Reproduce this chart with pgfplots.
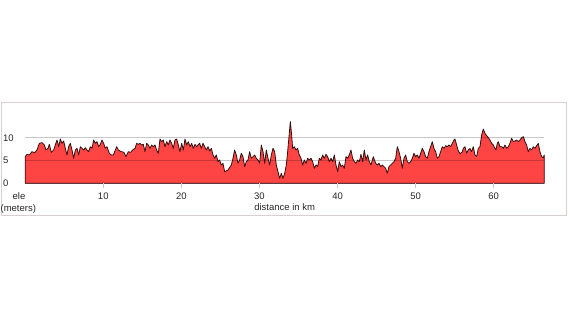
\documentclass[border=0pt]{standalone}
\usepackage{pgfplots}
\pgfplotsset{compat=1.18}
\usepackage{fontspec}
\setmainfont{Liberation Sans}
\definecolor{elefill}{RGB}{255,68,68}
\definecolor{eleline}{RGB}{50,14,14}
\definecolor{frame}{RGB}{218,206,206}
\definecolor{tickc}{RGB}{200,200,200}
\begin{document}
\begin{tikzpicture}
\path[use as bounding box] (0pt,0pt) rectangle (570pt,319pt);
\draw[frame, line width=0.9pt] (1.5pt,216.7pt) rectangle (566pt,103.3pt);
\begin{axis}[
  at={(25.16pt,135.7pt)}, anchor=south west,
  scale only axis, width=519.1pt, height=63.7pt,
  xmin=0, xmax=66.47, ymin=0, ymax=14,
  separate axis lines,
  axis x line*=bottom, axis y line*=left,
  axis line style={draw=none},
  xtick={10,20,30,40,50,60},
  ytick={0,5,10},
  tick align=outside,
  major tick length=5pt,
  xtick style={tickc, line width=0.8pt},
  ytick style={draw=none},
  ymajorgrids,
  grid style={black, opacity=0.22, line width=0.9pt},
  axis on top,
  /pgf/number format/assume math mode=true,
  tick label style={font=\fontsize{9.5}{11}\selectfont, text=black!85},
  xticklabel style={anchor=base, inner sep=0pt, yshift=-10.8pt},
  yticklabel style={anchor=base west, inner sep=0pt, xshift=-17.2pt, yshift=-3.4pt},
  clip=false,
]
\addplot[draw=eleline, line width=0.8pt, fill=elefill, line join=round] coordinates {
(0,5.85) (0.235,6.37) (0.534,6.22) (0.875,6.95) (1.217,6.73) (1.516,7.32) (1.814,8.78) (2.156,8.93) (2.455,8.42) (2.668,7.32) (2.924,7.68) (3.095,8.56) (3.351,6.80) (3.650,7.32) (3.863,8.42) (4.076,9.52) (4.290,8.05) (4.503,9.74) (4.717,8.78) (4.930,9.30) (5.143,7.68) (5.357,6.22) (5.570,8.05) (5.784,8.78) (5.997,7.32) (6.210,5.49) (6.424,7.32) (6.637,7.68) (6.851,6.22) (7.064,8.05) (7.277,7.68) (7.491,7.32) (7.704,7.83) (7.918,7.32) (8.131,6.95) (8.344,8.05) (8.558,7.68) (8.771,9.52) (8.985,8.78) (9.198,9.15) (9.411,8.05) (9.625,8.56) (9.838,9.52) (10.052,8.78) (10.265,7.68) (10.478,8.05) (10.777,6.59) (11.033,6.22)
(11.290,6.22) (11.717,8.05) (11.930,7.32) (12.143,7.10) (12.357,6.95) (12.655,6.80) (12.911,5.85) (13.210,6.95) (13.509,6.80) (13.765,7.32) (14.064,7.68) (14.277,8.78) (14.491,8.56) (14.704,8.78) (14.918,8.42) (15.131,8.56) (15.344,6.95) (15.558,8.78) (15.771,8.42) (15.985,7.68) (16.198,8.42) (16.411,8.05) (16.625,8.42) (16.838,7.32) (17.052,6.59) (17.265,9.74) (17.478,9.15) (17.692,9.52) (17.905,8.05) (18.119,9.15) (18.332,8.42) (18.545,9.52) (18.759,8.78) (18.972,7.68) (19.186,9.52) (19.399,9.74) (19.612,8.42) (19.826,6.95) (20.039,8.78) (20.253,7.32) (20.466,9.74) (20.679,8.42) (20.893,9.15) (21.106,8.05) (21.320,8.78) (21.533,7.68) (21.746,8.56) (21.960,8.05)
(22.131,8.42) (22.344,8.78) (22.558,7.68) (22.771,8.78) (22.985,8.05) (23.198,7.32) (23.411,8.05) (23.625,7.10) (23.838,7.68) (24.052,6.22) (24.265,5.49) (24.478,6.22) (24.692,4.75) (24.905,5.12) (25.119,4.02) (25.332,4.39) (25.545,2.56) (25.972,2.92) (26.399,4.02) (26.612,5.49) (26.826,7.32) (27.039,6.22) (27.253,4.39) (27.466,5.12) (27.679,6.59) (27.893,5.85) (28.106,3.66) (28.320,4.75) (28.533,5.12) (28.746,6.95) (28.960,5.49) (29.173,5.85) (29.387,6.22) (29.600,5.49) (29.813,5.12) (30.027,4.39) (30.240,8.42) (30.454,6.95) (30.667,4.39) (30.880,7.32) (31.094,5.49) (31.307,4.02) (31.521,6.22) (31.734,7.68) (31.947,6.95) (32.161,4.02) (32.374,2.56) (32.588,1.09) (32.801,2.19) (33.014,1.09) (33.228,2.19) (33.441,4.02)
(33.611,6.95) (33.825,10.98) (33.953,13.55) (34.124,10.61) (34.252,7.68) (34.465,8.05) (34.678,7.32) (34.892,7.68) (35.105,6.22) (35.319,5.49) (35.532,4.02) (35.745,5.12) (35.959,4.39) (36.172,5.49) (36.386,5.12) (36.599,5.49) (36.812,4.75) (37.026,3.29) (37.239,4.02) (37.453,3.66) (37.666,5.49) (37.879,5.12) (38.093,6.22) (38.306,5.49) (38.520,6.37) (38.733,5.85) (38.946,4.75) (39.160,5.49) (39.373,4.75) (39.587,6.22) (39.800,4.02) (40.013,2.56) (40.227,4.75) (40.440,3.66) (40.654,4.02) (40.867,3.29) (41.080,5.85) (41.294,5.49) (41.507,6.22) (41.721,7.32) (41.934,5.49) (42.147,4.75) (42.361,4.39) (42.574,5.12) (42.788,4.75) (43.001,6.37) (43.214,4.75) (43.428,7.32) (43.641,5.12) (43.855,6.22) (44.068,4.75) (44.281,4.02) (44.580,5.85)
(44.879,4.39) (45.093,4.02) (45.306,4.39) (45.520,3.66) (45.733,4.02) (45.946,3.66) (46.160,3.29) (46.373,2.19) (46.587,3.66) (46.800,4.02) (47.013,4.39) (47.227,4.75) (47.440,5.49) (47.654,8.05) (47.867,6.95) (48.080,5.49) (48.294,3.29) (48.507,5.49) (48.721,6.22) (48.934,4.75) (49.147,4.39) (49.361,4.75) (49.574,5.49) (49.788,6.59) (50.001,5.85) (50.214,6.22) (50.428,5.49) (50.641,6.59) (50.855,7.68) (51.068,6.95) (51.281,5.85) (51.495,5.49) (51.708,6.95) (51.922,8.05) (52.135,9.15) (52.348,7.68) (52.562,6.95) (52.775,5.49) (52.989,5.85) (53.202,6.95) (53.415,8.05) (53.629,7.68) (53.842,8.27) (54.056,8.05) (54.269,8.42) (54.482,8.05) (54.696,8.78) (54.909,9.52) (55.037,9.74) (55.251,8.42) (55.421,7.32) (55.677,6.5)
(55.976,6.9) (56.104,7.68) (56.317,8.05) (56.531,6.59) (56.744,7.32) (56.957,7.68) (57.171,6.95) (57.384,8.05) (57.598,6.22) (57.811,5.85) (58.024,7.68) (58.238,8.05) (58.451,10.61) (58.665,11.93) (58.878,10.98) (59.091,10.47) (59.305,10.03) (59.518,9.52) (59.732,8.78) (59.945,8.42) (60.158,7.68) (60.286,7.32) (60.457,8.78) (60.585,9.15) (60.799,8.05) (61.012,8.05) (61.225,7.68) (61.439,8.42) (61.652,7.68) (61.866,8.05) (62.079,8.78) (62.292,9.88) (62.506,9.15) (62.719,9.30) (62.933,9.52) (63.146,9.15) (63.359,9.52) (63.573,10.03) (63.786,10.25) (64.000,9.15) (64.213,8.42) (64.426,6.95) (64.640,7.68) (64.853,7.32) (65.067,8.05) (65.280,7.68) (65.493,8.27) (65.707,8.78) (65.920,6.95) (66.134,5.85) (66.347,5.63) (66.47,6.22)
} \closedcycle;
\end{axis}
\node[anchor=base, inner sep=0pt, font=\fontsize{9.5}{11}\selectfont, text=black!85] at (19pt,119.9pt) {ele};
\node[anchor=base, inner sep=0pt, font=\fontsize{9.5}{11}\selectfont, text=black!85] at (18.3pt,107.2pt) {(meters)};
\node[anchor=base, inner sep=0pt, font=\fontsize{9.5}{11}\selectfont, text=black!85] at (284.7pt,108.9pt) {distance in km};
\end{tikzpicture}
\end{document}
